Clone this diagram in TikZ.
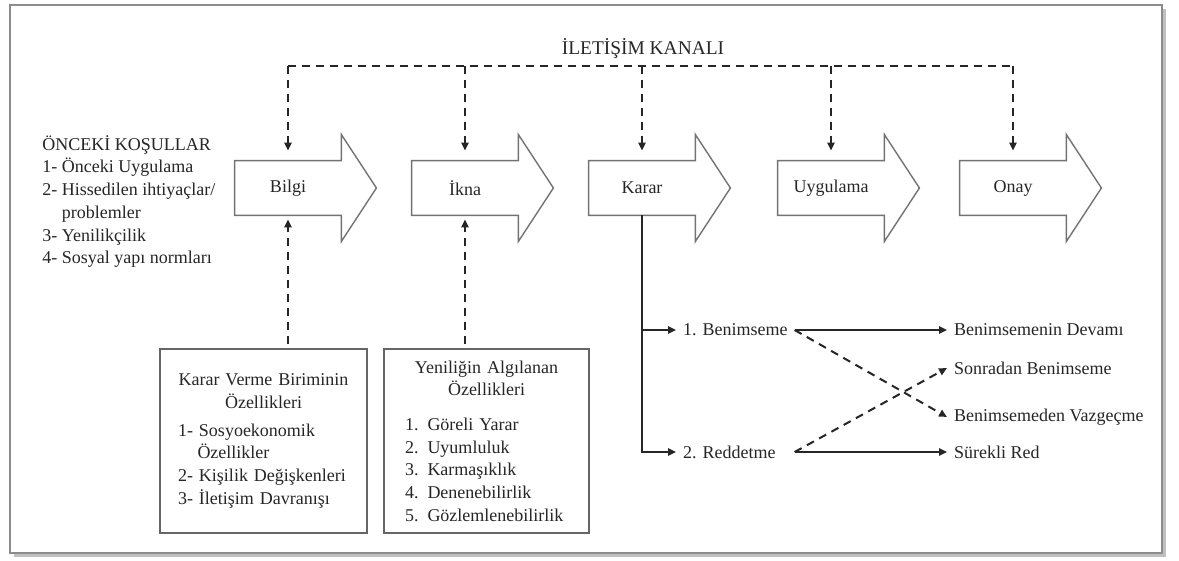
\documentclass[tikz,border=0pt]{standalone}
\usepackage{fontspec}
\setmainfont{Liberation Serif}
\usetikzlibrary{arrows.meta}

\begin{document}
\begin{tikzpicture}[x=0.5pt,y=-0.5pt,
  font=\fontsize{9}{11.35}\selectfont, text=black!85,
  stage/.style={minimum width=53pt,minimum height=27pt,inner sep=0pt},
  stageline/.style={draw=black!55,line width=0.7pt},
  channel/.style={line width=1pt,dash pattern=on 4pt off 3pt,black!85},
  arr/.style={-{Triangle[length=4pt,width=3.6pt]}},
  flow/.style={line width=1pt,black!85},
  infobox/.style={draw=black!60,line width=0.6pt,minimum height=92pt,inner ysep=0pt},
  choice/.style={anchor=west},
  outcome/.style={anchor=west}]

% Page and frame
\useasboundingbox (0,0) rectangle (1179,561);
\fill[black!25] (14,9) rectangle (1166,557);
\draw[black!45,fill=white,line width=0.6pt] (10,5) rectangle (1162,553);

% Stages of the process
\foreach \nm/\xx/\lab in {bilgi/288/Bilgi, ikna/465/İkna, karar/642/Karar,
                          uygulama/831/Uygulama, onay/1013/Onay}{
  \node[stage] (\nm) at (\xx,188) {\lab};
  \draw[stageline] (\nm.south west) -- (\nm.north west) -- (\nm.north east)
    -- ++(0pt,13pt) -- ([xshift=17.5pt]\nm.east) -- ([yshift=-13pt]\nm.south east)
    -- (\nm.south east) -- cycle;
}

% Communication channel
\node[font=\fontsize{9.7}{12}\selectfont] (kanal) at (643,49) {İLETİŞİM KANALI};
\coordinate (chan) at (0,66);
\draw[channel] (bilgi |- chan) -- (onay |- chan);
\foreach \nm in {bilgi,ikna,karar,uygulama,onay}
  \draw[channel,arr,shorten >=5pt] (\nm |- chan) -- (\nm.north);

% Prior conditions
\node[anchor=north west,inner sep=0pt,align=left] (onceki) at (42,135)
  {ÖNCEKİ KOŞULLAR\\1- Önceki Uygulama\\2- Hissedilen ihtiyaçlar/\\
   \hspace*{9.75pt}problemler\\3- Yenilikçilik\\4- Sosyal yapı normları};

% Boxes below
\node[infobox,text width=85.5pt,inner xsep=9pt] (kvb) at (263.5,441)
  {\centering Karar Verme Biriminin\\Özellikleri\par
   \vspace{2.5pt}\raggedright
   1- Sosyoekonomik\\\hspace*{9.75pt}Özellikler\\2- Kişilik Değişkenleri\\
   3- İletişim Davranışı\par};
\node[infobox,text width=81.5pt,inner xsep=10.5pt] (yoz) at (486.5,441)
  {\centering Yeniliğin Algılanan\\Özellikleri\par
   \vspace{6pt}\raggedright
   1. Göreli Yarar\\2. Uyumluluk\\3. Karmaşıklık\\4. Denenebilirlik\\
   5. Gözlemlenebilirlik\par};
\draw[channel,arr,shorten <=2pt,shorten >=2pt] (kvb.north -| bilgi) -- (bilgi.south);
\draw[channel,arr,shorten <=2pt,shorten >=2pt] (yoz.north -| ikna) -- (ikna.south);

% Decision branches
\node[choice] (ben) at (676,330) {1. Benimseme};
\node[choice] (red) at (676,452) {2. Reddetme};
\draw[flow,arr] (karar.south) |- (red.west);
\draw[flow,arr] (karar.south |- ben.west) -- (ben.west);

% Outcomes
\node[outcome] (devam) at (947,330) {Benimsemenin Devamı};
\node[outcome] (sonra) at (947,368) {Sonradan Benimseme};
\node[outcome] (vazgec) at (947,417) {Benimsemeden Vazgeçme};
\node[outcome] (surekli) at (947,452) {Sürekli Red};
\draw[flow,arr] (ben.east) -- (devam.west);
\draw[channel,arr] (ben.east) -- (vazgec.west);
\draw[channel,arr] (red.east -| ben.east) -- (sonra.west);
\draw[flow,arr] (red.east -| ben.east) -- (surekli.west);

\end{tikzpicture}
\end{document}
